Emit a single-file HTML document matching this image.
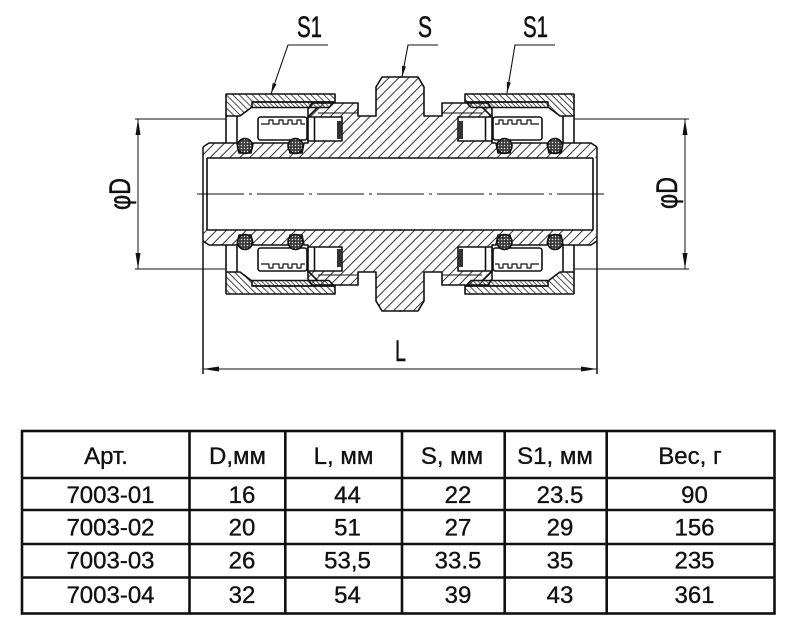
<!DOCTYPE html>
<html><head><meta charset="utf-8"><style>
html,body{margin:0;padding:0;background:#fff;}
svg{display:block;}
text{font-family:"Liberation Sans","DejaVu Sans",sans-serif;fill:#111;}
</style></head><body>
<svg width="796" height="631" viewBox="0 0 796 631" xmlns="http://www.w3.org/2000/svg">
<defs>
<pattern id="hA" width="7" height="10" patternUnits="userSpaceOnUse" patternTransform="rotate(45)"><line x1="1" y1="-1" x2="1" y2="11" stroke="#333" stroke-width="1"/></pattern>
<pattern id="hB" width="4.6" height="10" patternUnits="userSpaceOnUse" patternTransform="rotate(-45)"><line x1="1" y1="-1" x2="1" y2="11" stroke="#333" stroke-width="0.9"/></pattern>
<pattern id="hC" width="3" height="10" patternUnits="userSpaceOnUse" patternTransform="rotate(-45)"><line x1="1" y1="-1" x2="1" y2="11" stroke="#333" stroke-width="0.8"/></pattern>
<pattern id="dots" width="3" height="3" patternUnits="userSpaceOnUse"><rect width="3" height="3" fill="#3a3a3a"/><circle cx="1.5" cy="1.5" r="0.75" fill="#e0e0e0"/></pattern>
<path id="bodyQ" d="M203,158 L203,147 L209,143 L237,143 L239,153 L251,153 L253,143 L288,143 L290,153 L302,153 L304,143 L308,143 L308,109 L312,103 L358,103 L358,116 L376,116 L376,87 L382,77 L401,77 L401,158 Z"/>
<path id="nutQ" d="M226,94 L335,94 L335,102 L252,102 L252,107 L240,116 L226,116 Z"/>
<path id="stripQ" d="M252,102 L334,102 L329,107.5 L252,107.5 Z"/>
<clipPath id="cB"><use href="#bodyQ"/><use href="#bodyQ" transform="matrix(-1 0 0 1 800 0)"/><use href="#bodyQ" transform="matrix(1 0 0 -1 0 388)"/><use href="#bodyQ" transform="matrix(-1 0 0 -1 800 388)"/></clipPath>
<clipPath id="cN"><use href="#nutQ"/><use href="#nutQ" transform="matrix(-1 0 0 1 800 0)"/><use href="#nutQ" transform="matrix(1 0 0 -1 0 388)"/><use href="#nutQ" transform="matrix(-1 0 0 -1 800 388)"/></clipPath>
<clipPath id="cS"><use href="#stripQ"/><use href="#stripQ" transform="matrix(-1 0 0 1 800 0)"/><use href="#stripQ" transform="matrix(1 0 0 -1 0 388)"/><use href="#stripQ" transform="matrix(-1 0 0 -1 800 388)"/></clipPath>
<g id="Q" fill="none" stroke="#111" stroke-width="1.6" stroke-linejoin="round">
  <polyline points="401,77 382,77 376,87 376,116 358,116 358,103 312,103 308,109 308,143 304,143 302,153 290,153 288,143 253,143 251,153 239,153 237,143 209,143 203,147"/>
  <line x1="207" y1="158" x2="401" y2="158"/>
  <line x1="207" y1="158" x2="207" y2="195"/>
  <path d="M226,94 L335,94 L335,102 L252,102 L252,107 L240,116 L226,116"/>
  <path d="M252,102 L334,102 L329,107.5 L252,107.5"/>
  <line x1="226" y1="94" x2="226" y2="143"/>
  <line x1="237" y1="116" x2="237" y2="143"/>
  <rect x="258" y="117" width="49" height="23" rx="2.5" fill="#fff"/>
  <path d="M261,124 H269 V120 H273 V124 H279 V120 H283 V124 H288 V120 H292 V124 H297 V120 H301 V124 H305" stroke-width="1.2"/>
  <rect x="308" y="117" width="34" height="24" fill="#fff"/>
  <line x1="314.5" y1="117" x2="314.5" y2="141"/>
  <rect x="337" y="121" width="5" height="18" fill="#333" stroke="none"/>
  <line x1="308" y1="117" x2="318" y2="107"/>
  <line x1="318" y1="113" x2="358" y2="113" stroke-width="1"/>
  <circle cx="245" cy="146" r="7.5" fill="url(#dots)"/>
  <circle cx="295.5" cy="146" r="7.5" fill="url(#dots)"/>
</g>
</defs>
<rect width="796" height="631" fill="#fff"/>

<rect x="190" y="60" width="420" height="270" fill="url(#hA)" clip-path="url(#cB)"/>
<rect x="190" y="60" width="420" height="270" fill="url(#hB)" clip-path="url(#cN)"/>
<rect x="190" y="60" width="420" height="270" fill="url(#hC)" clip-path="url(#cS)"/>

<use href="#Q"/>
<use href="#Q" transform="matrix(-1 0 0 1 800 0)"/>
<use href="#Q" transform="matrix(1 0 0 -1 0 388)"/>
<use href="#Q" transform="matrix(-1 0 0 -1 800 388)"/>

<g stroke="#111" fill="none">
  <line x1="203" y1="147" x2="203" y2="374" stroke-width="1.5"/>
  <line x1="597" y1="147" x2="597" y2="374" stroke-width="1.5"/>
  <line x1="197" y1="194" x2="604" y2="194" stroke-width="1" stroke-dasharray="47 5 3 5"/>
  <line x1="135" y1="119" x2="226" y2="119" stroke-width="1"/>
  <line x1="135" y1="269" x2="226" y2="269" stroke-width="1"/>
  <line x1="574" y1="119" x2="689" y2="119" stroke-width="1"/>
  <line x1="574" y1="269" x2="689" y2="269" stroke-width="1"/>
  <line x1="138" y1="119" x2="138" y2="269" stroke-width="1"/>
  <line x1="685" y1="119" x2="685" y2="269" stroke-width="1"/>
  <line x1="203" y1="369" x2="597" y2="369" stroke-width="1"/>
  <polyline points="328,45 288,45 271,94" stroke-width="1.1"/>
  <polyline points="438,45 408,45 402,77" stroke-width="1.1"/>
  <polyline points="555,45 515,45 507,93" stroke-width="1.1"/>
</g>
<g fill="#111">
  <polygon points="138,119 135.5,135 140.5,135"/>
  <polygon points="138,269 135.5,253 140.5,253"/>
  <polygon points="685,119 682.5,135 687.5,135"/>
  <polygon points="685,269 682.5,253 687.5,253"/>
  <polygon points="203,369 219,366.5 219,371.5"/>
  <polygon points="597,369 581,366.5 581,371.5"/>
  <polygon points="271,94 276.5,84.3 272.7,83"/>
  <polygon points="402,77 406,66.6 402,65.8"/>
  <polygon points="507,93 510.8,82.5 506.8,81.9"/>
</g>

<g stroke="#111" stroke-width="0.5">
<text x="297" y="37" font-size="30" textLength="25" lengthAdjust="spacingAndGlyphs">S1</text>
<text x="418" y="37" font-size="30" textLength="14" lengthAdjust="spacingAndGlyphs">S</text>
<text x="523" y="37" font-size="30" textLength="25" lengthAdjust="spacingAndGlyphs">S1</text>
<text x="395" y="361" font-size="30" textLength="11" lengthAdjust="spacingAndGlyphs">L</text>
<text transform="translate(130,194) rotate(-90)" text-anchor="middle" font-size="30" textLength="32" lengthAdjust="spacingAndGlyphs">φD</text>
<text transform="translate(677,193) rotate(-90)" text-anchor="middle" font-size="30" textLength="32" lengthAdjust="spacingAndGlyphs">φD</text>
</g>

<g stroke="#111" stroke-width="2.6" fill="none">
  <rect x="22" y="431" width="752.5" height="182.5"/>
  <line x1="189.5" y1="431" x2="189.5" y2="613.5"/>
  <line x1="285.3" y1="431" x2="285.3" y2="613.5"/>
  <line x1="402" y1="431" x2="402" y2="613.5"/>
  <line x1="504.7" y1="431" x2="504.7" y2="613.5"/>
  <line x1="606.7" y1="431" x2="606.7" y2="613.5"/>
  <line x1="22" y1="478" x2="774.5" y2="478"/>
  <line x1="22" y1="510" x2="774.5" y2="510"/>
  <line x1="22" y1="544" x2="774.5" y2="544"/>
  <line x1="22" y1="577.5" x2="774.5" y2="577.5"/>
</g>
<g font-size="24" text-anchor="middle" stroke="#111" stroke-width="0.35">
  <text x="106" y="464">Арт.</text>
  <text x="237.5" y="464">D,мм</text>
  <text x="343.5" y="464">L, мм</text>
  <text x="452" y="464">S, мм</text>
  <text x="555" y="464">S1, мм</text>
  <text x="690" y="464">Вес, г</text>

  <text x="110.5" y="503">7003-01</text>
  <text x="242" y="503">16</text>
  <text x="347.5" y="503">44</text>
  <text x="458" y="503">22</text>
  <text x="560" y="503">23.5</text>
  <text x="694.5" y="503">90</text>

  <text x="110.5" y="535.5">7003-02</text>
  <text x="242" y="535.5">20</text>
  <text x="347.5" y="535.5">51</text>
  <text x="458" y="535.5">27</text>
  <text x="560" y="535.5">29</text>
  <text x="694.5" y="535.5">156</text>

  <text x="110.5" y="568.5">7003-03</text>
  <text x="242" y="568.5">26</text>
  <text x="347.5" y="568.5">53,5</text>
  <text x="458" y="568.5">33.5</text>
  <text x="560" y="568.5">35</text>
  <text x="694.5" y="568.5">235</text>

  <text x="110.5" y="603">7003-04</text>
  <text x="242" y="603">32</text>
  <text x="347.5" y="603">54</text>
  <text x="458" y="603">39</text>
  <text x="560" y="603">43</text>
  <text x="694.5" y="603">361</text>
</g>
</svg>
</body></html>
